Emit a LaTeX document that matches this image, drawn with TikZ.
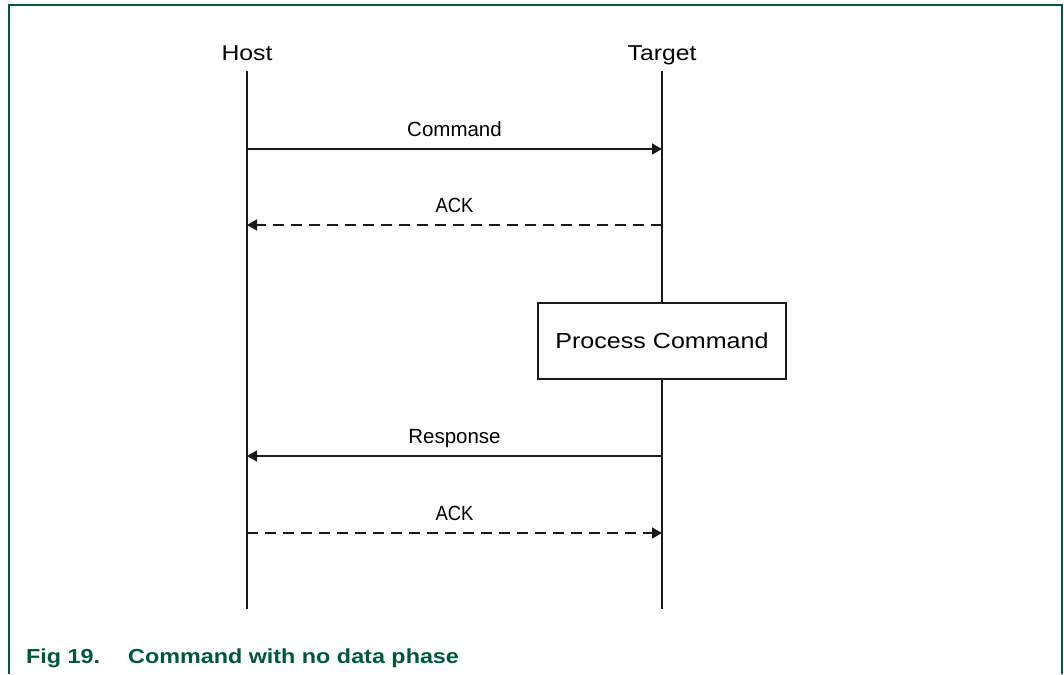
\documentclass[tikz,border=0pt]{standalone}
\usepackage{fontspec}
\setmainfont{Liberation Sans}[FakeStretch=1.15]
\newfontfamily\labelfont{Liberation Sans}
\newfontfamily\ackfont{Liberation Sans}[FakeStretch=0.9]
\usetikzlibrary{arrows.meta}
\definecolor{nxpgreen}{HTML}{00573F}
\definecolor{lineblack}{HTML}{1A1A1A}

\begin{document}
\begin{tikzpicture}[x=1pt, y=-1pt,
	frame/.style = {draw = nxpgreen, line width = 2pt},
	actor/.style = {anchor = base, inner sep = 0pt, font = \fontsize{21.5}{25}\selectfont},
	lifeline/.style = {draw = lineblack, line width = 1.6pt},
	msg/.style = {draw = lineblack, line width = 1.5pt, -{Triangle[length = 10pt, width = 11pt]}},
	reply/.style = {msg, dash pattern = on 11pt off 7pt},
	lbl/.style = {anchor = base, inner sep = 0pt, yshift = 13pt, font = \labelfont\fontsize{20.5}{24}\selectfont},
	acklbl/.style = {lbl, font = \ackfont\fontsize{20.5}{24}\selectfont},
	procbox/.style = {draw = lineblack, line width = 1.2pt, fill = white, minimum width = 248pt, minimum height = 76pt, font = \fontsize{21.8}{25}\selectfont},
	caption/.style = {anchor = base west, inner sep = 0pt, text = nxpgreen, font = \fontsize{20.3}{24}\selectfont\bfseries}]
	\useasboundingbox (0,0) rectangle (1064,674);
	\draw[frame] (9,674) -- (9,5) -- (1062,5) -- (1062,674);
	\node[actor] (host) at (247,61) {Host};
	\node[actor] (target) at (662,61) {Target};
	\coordinate (htop) at (247,71);
	\coordinate (hbot) at (247,609);
	\coordinate (ttop) at (662,71);
	\coordinate (tbot) at (662,609);
	\draw[lifeline] (htop) -- (hbot);
	\draw[lifeline] (ttop) -- (tbot);
	\coordinate (h1) at (247,149);
	\coordinate (t1) at (662,149);
	\coordinate (h2) at (247,225);
	\coordinate (t2) at (662,225);
	\coordinate (h3) at (247,456);
	\coordinate (t3) at (662,456);
	\coordinate (h4) at (247,533);
	\coordinate (t4) at (662,533);
	\draw[msg] (h1) -- node[lbl] (cmdlbl) {Command} (t1);
	\draw[reply] (t2) -- node[acklbl] (acklbl) {ACK} (h2);
	\node[procbox] (proc) at (662,341) {Process Command};
	\draw[msg] (t3) -- node[lbl] (resplbl) {Response} (h3);
	\draw[reply] (h4) -- node[acklbl] (ack2lbl) {ACK} (t4);
	\node[caption] (fignum) at (26,663) {Fig 19.};
	\node[caption] (figtitle) at (128,663) {Command with no data phase};
\end{tikzpicture}
\end{document}
